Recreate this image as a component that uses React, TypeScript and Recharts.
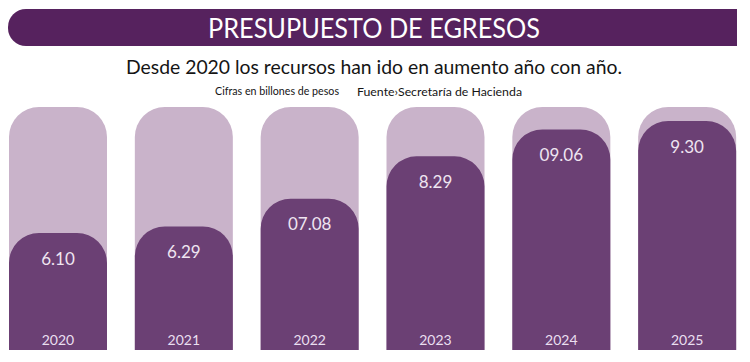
import { BarChart, Bar, XAxis, YAxis, LabelList } from "recharts";
import { FC } from "react";

const years = ["2020", "2021", "2022", "2023", "2024", "2025"];
const budget = [6.1, 6.29, 7.08, 8.29, 9.06, 9.3];
const budgetLabels = ["6.10", "6.29", "07.08", "8.29", "09.06", "9.30"];

const data = years.map((year, i) => ({
  year,
  value: budget[i],
  label: budgetLabels[i],
}));

const FONT = "Lato, 'Open Sans', sans-serif";

const ValueLabel: FC<any> = ({ x, y, width, value }) => (
  <text
    x={x + width / 2}
    y={y + 25}
    textAnchor="middle"
    dominantBaseline="central"
    fill="#efe5f1"
    fontSize={17}
    fontFamily={FONT}
  >
    {value}
  </text>
);

const YearLabel: FC<any> = ({ x, y, width, height, value }) => (
  <text
    x={x + width / 2}
    y={y + height - 11}
    textAnchor="middle"
    dominantBaseline="central"
    fill="#eadff0"
    fontSize={14}
    fontFamily={FONT}
  >
    {value}
  </text>
);

const Header: FC = () => (
  <svg
    width={750}
    height={105}
    style={{ position: "absolute", left: 0, top: 0 }}
  >
    <rect x={8} y={9} width={760} height={37} rx={18} fill="#56225e" />
    <rect x={737} y={9} width={20} height={37} fill="#ffffff" />
    <text
      x={374}
      y={28}
      textAnchor="middle"
      dominantBaseline="central"
      fill="#ffffff"
      fontSize={26}
      fontFamily={FONT}
      textLength={332}
      lengthAdjust="spacingAndGlyphs"
    >
      PRESUPUESTO DE EGRESOS
    </text>
    <text
      x={374}
      y={66}
      textAnchor="middle"
      dominantBaseline="central"
      fill="#151515"
      fontSize={20}
      fontFamily={FONT}
      textLength={496}
      lengthAdjust="spacingAndGlyphs"
    >
      Desde 2020 los recursos han ido en aumento año con año.
    </text>
    <text
      x={215}
      y={91}
      dominantBaseline="central"
      fill="#151515"
      fontSize={10.5}
      fontFamily={FONT}
      textLength={124}
      lengthAdjust="spacingAndGlyphs"
    >
      Cifras en billones de pesos
    </text>
    <text
      x={357}
      y={91}
      dominantBaseline="central"
      fill="#151515"
      fontSize={11}
      fontFamily={FONT}
      textLength={165}
      lengthAdjust="spacingAndGlyphs"
    >
      Fuente›Secretaría de  Hacienda
    </text>
  </svg>
);

export default function App() {
  return (
    <div
      style={{
        position: "relative",
        width: 750,
        height: 362,
        margin: -8,
        background: "#ffffff",
        overflow: "hidden",
      }}
    >
      <Header />
      <div style={{ position: "absolute", left: -5, top: 0 }}>
        <BarChart
          width={755}
          height={362}
          data={data}
          margin={{ top: 107, right: 0, bottom: 12, left: 0 }}
        >
          <XAxis dataKey="year" hide />
          <YAxis hide domain={[2.76, 9.7]} allowDataOverflow />
          <Bar
            dataKey="value"
            fill="#6b4074"
            barSize={98}
            radius={[30, 30, 0, 0]}
            background={{ fill: "#c9b3ca", radius: [30, 30, 0, 0] } as any}
            isAnimationActive={false}
          >
            <LabelList dataKey="label" content={<ValueLabel />} />
            <LabelList dataKey="year" content={<YearLabel />} />
          </Bar>
        </BarChart>
      </div>
    </div>
  );
}
